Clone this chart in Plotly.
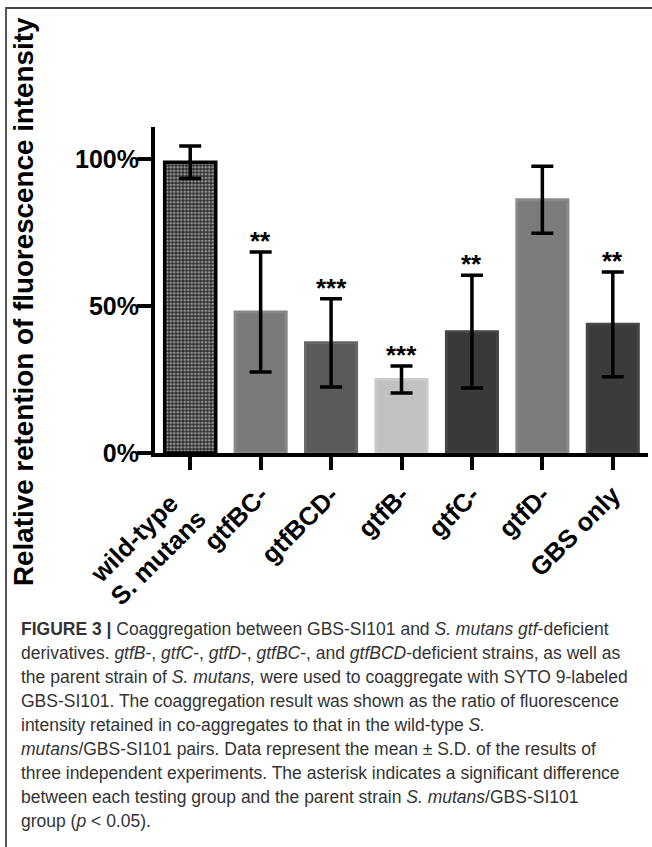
import plotly.graph_objects as go

# Coaggregation of GBS-SI101 with S. mutans gtf-deficient derivatives
categories = ["wild-type<br>S. mutans", "gtfBC-", "gtfBCD-", "gtfB-", "gtfC-", "gtfD-", "GBS only"]
mean_pct = [99.0, 48.0, 37.5, 25.0, 41.3, 86.2, 43.8]
sd_pct = [5.5, 20.4, 15.0, 4.6, 19.2, 11.4, 17.8]
significance = ["", "**", "***", "***", "**", "", "**"]
fill_colors = ["#2a2a2a", "#7a7a7a", "#5a5a5a", "#c1c1c1", "#393939", "#7b7b7b", "#3b3b3b"]
edge_colors = ["#000000", "#888888", "#676767", "#cbcbcb", "#454545", "#8a8a8a", "#474747"]
edge_widths = [3.5, 3, 3, 3, 3, 3, 3]
bar_patterns = [".", "", "", "", "", "", ""]

y_ticks = [0, 50, 100]
y_tick_text = ["0%", "50%", "100%"]

caption_lines = [
    "<b>FIGURE 3 |</b> Coaggregation between GBS-SI101 and <i>S. mutans gtf</i>-deficient",
    "derivatives. <i>gtfB</i>-, <i>gtfC</i>-, <i>gtfD</i>-, <i>gtfBC</i>-, and <i>gtfBCD</i>-deficient strains, as well as",
    "the parent strain of <i>S. mutans,</i> were used to coaggregate with SYTO 9-labeled",
    "GBS-SI101. The coaggregation result was shown as the ratio of fluorescence",
    "intensity retained in co-aggregates to that in the wild-type <i>S.</i>",
    "<i>mutans</i>/GBS-SI101 pairs. Data represent the mean ± S.D. of the results of",
    "three independent experiments. The asterisk indicates a significant difference",
    "between each testing group and the parent strain <i>S. mutans</i>/GBS-SI101",
    "group (<i>p</i> &lt; 0.05).",
]

W, H = 652, 847
ML, MR, MT, MB = 155, 4, 127, 394
PW, PH = W - ML - MR, H - MT - MB


def px_x(px):
    return (px - ML) / PW


def px_y(py):
    return (H - MB - py) / PH


FONT = "Liberation Sans, Arial, Helvetica, sans-serif"
LABEL_SIZE = 25.5

fig = go.Figure(
    go.Bar(
        x=list(range(len(categories))),
        y=mean_pct,
        marker=dict(
            color=fill_colors,
            line=dict(color=edge_colors, width=edge_widths),
            pattern=dict(
                shape=bar_patterns,
                fgcolor="#000000",
                bgcolor="#3c3c3c",
                size=3.5,
                solidity=0.5,
            ),
        ),
        error_y=dict(type="data", array=sd_pct, visible=True, color="#000000", thickness=3.5, width=11),
        width=0.725,
        hoverinfo="skip",
    )
)

annotations = []
for i, (m, s, sig) in enumerate(zip(mean_pct, sd_pct, significance)):
    if sig:
        annotations.append(
            dict(
                x=i, y=m + s, xref="x", yref="y", text=sig, showarrow=False,
                yanchor="bottom", xanchor="center", yshift=-6,
                font=dict(family=FONT, size=26, color="#000000", weight="bold"),
            )
        )

# the two-line category label is set line by line, tightly spaced and centred on its tick
multi_line = [k for k, c in enumerate(categories) if "<br>" in c]
axis_labels = ["" if k in multi_line else c for k, c in enumerate(categories)]
for k in multi_line:
    for j, part in enumerate(categories[k].split("<br>")):
        annotations.append(
            dict(
                x=k, y=px_y(538 + 19 * j), xref="x", yref="paper", xshift=-56 + 24 * j,
                text=part, textangle=-45, showarrow=False, xanchor="center", yanchor="middle",
                font=dict(family=FONT, size=LABEL_SIZE, color="#000000", weight="bold"),
            )
        )

annotations.append(
    dict(
        x=px_x(23), y=px_y(302), xref="paper", yref="paper",
        text="Relative retention of fluorescence intensity", textangle=-90,
        showarrow=False, xanchor="center", yanchor="middle",
        font=dict(family=FONT, size=27.8, color="#000000", weight="bold"),
    )
)

for k, line in enumerate(caption_lines):
    annotations.append(
        dict(
            x=px_x(19), y=px_y(629 + 24 * k), xref="paper", yref="paper",
            text=line, showarrow=False, xanchor="left", yanchor="middle", align="left",
            font=dict(family=FONT, size=17.5, color="#333333"),
        )
    )

shapes = [
    dict(type="line", xref="paper", yref="paper", x0=px_x(5), x1=px_x(W + 5),
         y0=px_y(8), y1=px_y(8), line=dict(color="#444444", width=2)),
    dict(type="line", xref="paper", yref="paper", x0=px_x(6), x1=px_x(6),
         y0=px_y(7), y1=px_y(H + 5), line=dict(color="#555555", width=2)),
]

fig.update_layout(
    width=W, height=H,
    margin=dict(l=ML, r=MR, t=MT, b=MB),
    paper_bgcolor="white", plot_bgcolor="white",
    showlegend=False,
    annotations=annotations,
    shapes=shapes,
    xaxis=dict(
        range=[-0.5, 6.5], tickmode="array", tickvals=list(range(len(categories))),
        ticktext=axis_labels, tickangle=-45, showline=True, linecolor="#000000", linewidth=4,
        ticks="outside", ticklen=13, tickwidth=4, tickcolor="#000000", showgrid=False, zeroline=False,
        tickfont=dict(family=FONT, size=LABEL_SIZE, color="#000000", weight="bold"),
    ),
    yaxis=dict(
        range=[0, 111], tickmode="array", tickvals=y_ticks, ticktext=y_tick_text,
        showline=True, linecolor="#000000", linewidth=4, ticks="outside", ticklen=14,
        tickwidth=4, tickcolor="#000000", showgrid=False, zeroline=False, ticklabelstandoff=-7,
        tickfont=dict(family=FONT, size=25, color="#000000", weight="bold"),
    ),
)

fig.write_html("out.html")
